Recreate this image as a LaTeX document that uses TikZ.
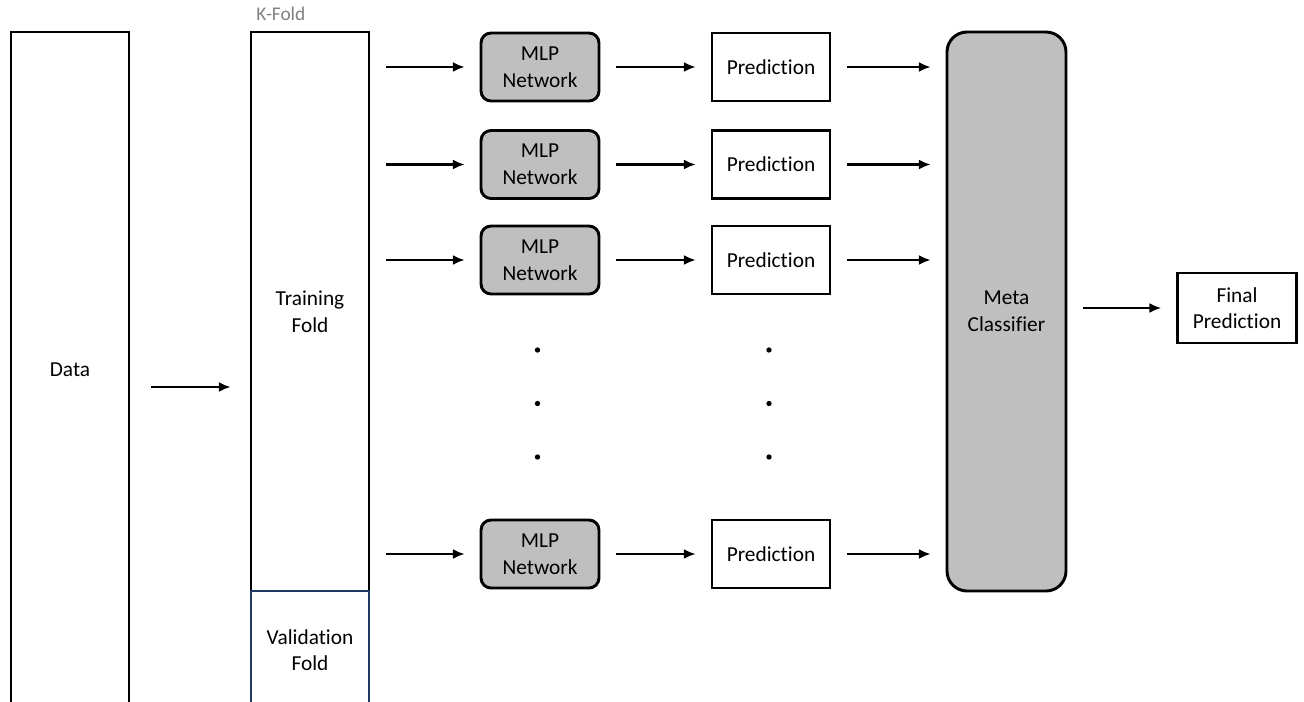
\documentclass[tikz,border=0pt]{standalone}
\usepackage{fontspec}
\setmainfont{Carlito}[Ligatures=NoCommon]
\usetikzlibrary{arrows.meta}
\definecolor{boxgray}{HTML}{BFBFBF}
\definecolor{navy}{HTML}{203864}
\definecolor{labelgray}{HTML}{808080}
\begin{document}
\begin{tikzpicture}[x=0.75pt,y=-0.75pt,
  every node/.style={font=\fontsize{16}{20}\selectfont, align=center, inner sep=0pt},
  plainbox/.style={draw=black, line width=2.2pt, fill=white, rectangle},
  mlpbox/.style={draw=black, line width=2.2pt, fill=boxgray, rounded corners=7.5pt,
                 minimum width=88.5pt, minimum height=51pt},
  predbox/.style={plainbox, minimum width=88.5pt, minimum height=51pt},
  arr/.style={-{Latex[length=9pt,width=7.5pt]}, line width=1.9pt, shorten <=11.5pt, shorten >=11pt},
  dot/.style={circle, fill=black, inner sep=0pt, minimum size=4pt}
]
\useasboundingbox (0,0) rectangle (1304,701);
\clip (0,0) rectangle (1304,701);

% input data column (runs past the lower edge)
\node[plainbox, minimum width=88.5pt, minimum height=546pt] (data) at (70,396) {};
\node (datatxt) at (70,370) {Data};

% k-fold split
\node[font=\fontsize{14.5}{17}\selectfont, text=labelgray, anchor=west] (kfold) at (256,14) {K-Fold};
\node[plainbox, minimum width=88.5pt, minimum height=419.25pt] (train) at (310,311.5) {Training\\Fold};
\node[draw=navy, line width=2.2pt, fill=white, minimum width=88.5pt, minimum height=88.5pt] (valid) at (310,650) {Validation\\Fold};

% base learners and their predictions
\node[mlpbox] (mlp1) at (540,67) {MLP\\Network};
\node[mlpbox] (mlp2) at (540,164.5) {MLP\\Network};
\node[mlpbox] (mlp3) at (540,260) {MLP\\Network};
\node[mlpbox] (mlp4) at (540,554) {MLP\\Network};

\node[predbox] (pred1) at (771,67) {Prediction};
\node[predbox] (pred2) at (771,164.5) {Prediction};
\node[predbox] (pred3) at (771,260) {Prediction};
\node[predbox] (pred4) at (771,554) {Prediction};

% ellipsis between the repeated rows
\foreach \yy [count=\i] in {350,403.5,457} {
  \node[dot] (dl\i) at (537.5,\yy) {};
  \node[dot] (dr\i) at (769,\yy) {};
}

% stacking stage
\node[draw=black, line width=2.2pt, fill=boxgray, rounded corners=15pt,
      minimum width=89.25pt, minimum height=419.25pt] (meta) at (1006.5,311.5) {Meta\\Classifier};
\node[plainbox, minimum width=89.25pt, minimum height=52.5pt] (final) at (1237,308) {Final\\Prediction};

% connectors
\draw[arr, shorten <=15.5pt, shorten >=14pt] (data.east |- 0,387) -- (train.west |- 0,387);
\foreach \i in {1,2,3,4} {
  \draw[arr] (train.east |- mlp\i.west) -- (mlp\i.west);
  \draw[arr] (mlp\i.east) -- (pred\i.west);
  \draw[arr] (pred\i.east) -- (meta.west |- pred\i.east);
}
\draw[arr] (meta.east |- final.west) -- (final.west);
\end{tikzpicture}
\end{document}
